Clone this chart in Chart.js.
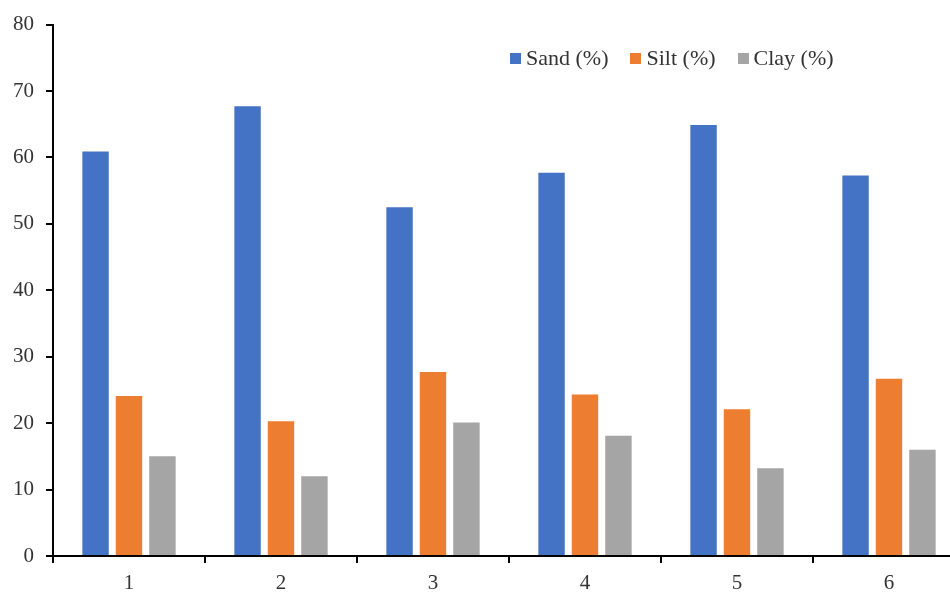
<!DOCTYPE html>
<html>
<head>
<meta charset="utf-8">
<script src="https://cdn.jsdelivr.net/npm/chart.js@4/dist/chart.umd.min.js"></script>
<style>
	html, body { margin: 0; padding: 0; background: #fff; overflow: hidden; }
	#wrap { position: relative; width: 950px; height: 596px; overflow: hidden; }
	#box { position: absolute; left: 0; top: 0; width: 970px; height: 596px; }
	#legend { position: absolute; top: 45px; left: 510px; display: flex;
		font-family: 'Liberation Serif', 'Times New Roman', serif; font-size: 22px; color: #333; }
	#legend span.item { display: flex; align-items: center; margin-right: 22px; }
	#legend span.sw { width: 11px; height: 11px; margin-right: 5px; display: inline-block; }
</style>
</head>
<body>
<div id="wrap">
	<div id="box"><canvas id="chart" width="970" height="596"></canvas></div>
	<div id="legend"></div>
</div>
<script>
var labels = ['1', '2', '3', '4', '5', '6'];
var sand = [60.9, 67.7, 52.5, 57.7, 64.9, 57.3];
var silt = [24.1, 20.3, 27.7, 24.3, 22.1, 26.7];
var clay = [15.0, 12.0, 20.1, 18.1, 13.2, 16.0];
var yTicks = [0, 10, 20, 30, 40, 50, 60, 70, 80];

var fontFam = "'Liberation Serif', 'Times New Roman', serif";

var datasets = [
	{ label: 'Sand (%)', data: sand, backgroundColor: '#4472C4' },
	{ label: 'Silt (%)', data: silt, backgroundColor: '#ED7D31' },
	{ label: 'Clay (%)', data: clay, backgroundColor: '#A5A5A5' }
];

// legend as html, built from the datasets
var leg = document.getElementById('legend');
datasets.forEach(function(ds) {
	var item = document.createElement('span');
	item.className = 'item';
	var sw = document.createElement('span');
	sw.className = 'sw';
	sw.style.background = ds.backgroundColor;
	item.appendChild(sw);
	item.appendChild(document.createTextNode(ds.label));
	leg.appendChild(item);
});

var ctx = document.getElementById('chart').getContext('2d');
new Chart(ctx, {
	type: 'bar',
	data: { labels: labels, datasets: datasets },
	options: {
		responsive: false,
		animation: false,
		maintainAspectRatio: false,
		layout: { padding: { top: 20, right: 5, bottom: 0, left: 0 } },
		datasets: { bar: { categoryPercentage: 0.66, barPercentage: 0.79 } },
		plugins: {
			legend: { display: false },
			tooltip: { enabled: false }
		},
		scales: {
			x: {
				grid: { offset: true, drawOnChartArea: false, drawTicks: true, tickLength: 7, color: '#000', lineWidth: 2 },
				border: { color: '#000', width: 2 },
				ticks: { color: '#333', padding: 8, font: { family: fontFam, size: 21 } },
				afterFit: function(scale) { scale.height = 40; }
			},
			y: {
				min: 0,
				max: 80,
				afterBuildTicks: function(scale) {
					scale.ticks = yTicks.map(function(v) { return { value: v }; });
				},
				grid: { drawOnChartArea: false, drawTicks: true, tickLength: 7, color: '#000', lineWidth: 2 },
				border: { color: '#000', width: 2 },
				ticks: { color: '#333', padding: 12, font: { family: fontFam, size: 21 } },
				afterFit: function(scale) { scale.width = 53; }
			}
		}
	}
});
</script>
</body>
</html>
